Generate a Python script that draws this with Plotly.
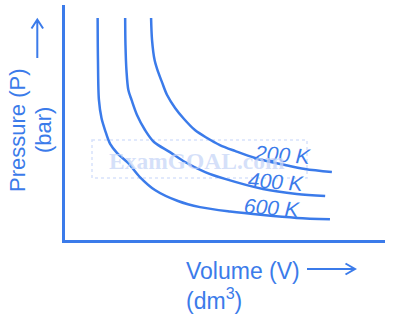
import plotly.graph_objects as go

# Isotherm data (volume in arbitrary units, pressure in arbitrary units)
v_600 = [1.02, 1.03, 1.06, 1.14, 1.25, 1.41, 1.63, 1.97, 2.34, 2.81, 3.53, 4.22, 5.16, 6.19, 7.24, 8.28]
p_600 = [9.45, 7.66, 5.96, 5.19, 4.68, 4.09, 3.70, 3.28, 2.68, 2.13, 1.66, 1.40, 1.21, 1.06, 0.94, 0.88]

v_400 = [1.88, 1.89, 1.92, 1.98, 2.08, 2.25, 2.50, 2.78, 3.28, 3.75, 4.38, 5.00, 6.19, 7.24, 8.13]
p_400 = [9.45, 8.30, 7.23, 6.38, 5.96, 5.32, 4.68, 4.17, 3.74, 3.32, 2.89, 2.60, 2.17, 1.96, 1.87]

v_200 = [2.69, 2.72, 2.80, 2.91, 3.03, 3.19, 3.44, 3.72, 4.06, 4.44, 4.84, 5.31, 5.94, 6.88, 7.50, 8.34]
p_200 = [9.45, 8.51, 7.66, 7.15, 6.72, 6.17, 5.62, 5.15, 4.68, 4.34, 4.04, 3.79, 3.49, 3.19, 3.02, 2.89]

labels = ["200 K", "400 K", "600 K"]
label_pos = [(6.81, 3.62), (6.59, 2.51), (6.47, 1.40)]

BLUE = "#3b7bea"
FONT = "Arial, Liberation Sans, sans-serif"

W, H = 400, 319
L, R, T, B = 65, 15, 5, 79
PW, PH = W - L - R, H - T - B


def px(x):
    return (x - L) / PW


def py(y):
    return (H - B - y) / PH


fig = go.Figure()
for v, p in [(v_200, p_200), (v_400, p_400), (v_600, p_600)]:
    fig.add_trace(go.Scatter(x=v, y=p, mode="lines",
                             line=dict(color=BLUE, width=2.5, shape="spline", smoothing=0.9),
                             hoverinfo="skip", showlegend=False))

annotations = []
for txt, (xv, yv) in zip(labels, label_pos):
    annotations.append(dict(x=xv, y=yv, xref="x", yref="y", text="<i>" + txt + "</i>",
                            showarrow=False, textangle=4, xanchor="center", yanchor="middle",
                            font=dict(family=FONT, size=21, color=BLUE)))

# axis titles
annotations += [
    dict(x=px(17), y=py(131), xref="paper", yref="paper", text="Pressure (P)",
         textangle=-90, showarrow=False, xanchor="center", yanchor="middle",
         font=dict(family=FONT, size=22, color=BLUE)),
    dict(x=px(43), y=py(130), xref="paper", yref="paper", text="(bar)",
         textangle=-90, showarrow=False, xanchor="center", yanchor="middle",
         font=dict(family=FONT, size=22, color=BLUE)),
    dict(x=px(184), y=py(271), xref="paper", yref="paper", text="Volume (V)",
         xanchor="left", yanchor="middle", showarrow=False,
         font=dict(family=FONT, size=23, color=BLUE)),
    dict(x=px(184), y=py(299), xref="paper", yref="paper", text="(dm<sup>3</sup>)",
         xanchor="left", yanchor="middle", showarrow=False,
         font=dict(family=FONT, size=23, color=BLUE)),
    dict(x=px(197), y=py(161), xref="paper", yref="paper", text="<b>ExamGOAL.com</b>",
         xanchor="center", yanchor="middle", showarrow=False,
         font=dict(family="Liberation Serif, Times New Roman, serif", size=23.5,
                   color="rgba(200,214,248,0.75)")),
]

shapes = [
    # watermark box
    dict(type="rect", xref="paper", yref="paper", x0=px(92), x1=px(307), y0=py(140), y1=py(178),
         line=dict(color="rgba(205,218,250,0.8)", width=1.5, dash="dot"), layer="below"),
    # y arrow
    dict(type="path", xref="paper", yref="paper",
         path=f"M {px(37.3)} {py(58)} L {px(37.3)} {py(19.5)} M {px(31.5)} {py(28.5)} L {px(37.3)} {py(19.5)} L {px(43.1)} {py(28.5)}",
         line=dict(color=BLUE, width=2)),
    # x arrow
    dict(type="path", xref="paper", yref="paper",
         path=f"M {px(307)} {py(269)} L {px(355)} {py(269)} M {px(345.5)} {py(263.5)} L {px(355)} {py(269)} L {px(345.5)} {py(274.5)}",
         line=dict(color=BLUE, width=2)),
]

fig.update_layout(
    width=W, height=H, margin=dict(l=L, r=R, t=T, b=B),
    paper_bgcolor="white", plot_bgcolor="white",
    annotations=annotations, shapes=shapes,
    xaxis=dict(range=[0, 10], showline=True, linecolor=BLUE, linewidth=2.5,
               showgrid=False, zeroline=False, showticklabels=False, ticks=""),
    yaxis=dict(range=[0, 10], showline=True, linecolor=BLUE, linewidth=2.5,
               showgrid=False, zeroline=False, showticklabels=False, ticks=""),
)

fig.write_html("out.html", config={"displayModeBar": False})
